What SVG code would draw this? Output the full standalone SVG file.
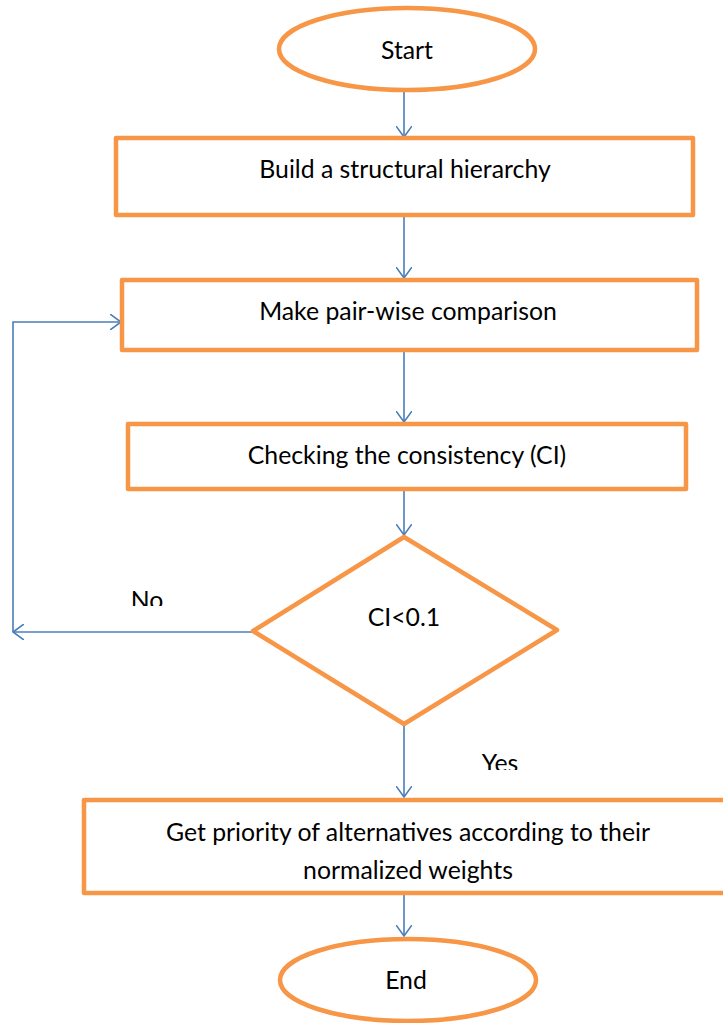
<svg xmlns="http://www.w3.org/2000/svg" width="723" height="1023" viewBox="0 0 723 1023">
<defs>
<style>
.shape{fill:#fff;stroke:#f79646;stroke-width:4.5;stroke-linejoin:round}
.con{fill:none;stroke:#4a7ebb;stroke-width:1.6}
.t{font-family:Lato,"Open Sans",sans-serif;font-size:24.8px;fill:#000;text-anchor:middle}
</style>
<marker id="ah" viewBox="0 0 12 16" refX="11" refY="8" markerWidth="12" markerHeight="16" markerUnits="userSpaceOnUse" orient="auto">
<path d="M0,0 L11,8 L0,16" fill="none" stroke="#4a7ebb" stroke-width="1.6"/>
</marker>
<clipPath id="cNo"><rect x="100" y="570" width="100" height="36"/></clipPath>
<clipPath id="cYes"><rect x="440" y="740" width="120" height="30"/></clipPath>
</defs>
<g id="connectors">
<line class="con" x1="404" y1="90" x2="404" y2="137" marker-end="url(#ah)"/>
<line class="con" x1="404" y1="216" x2="404" y2="278" marker-end="url(#ah)"/>
<line class="con" x1="404" y1="351" x2="404" y2="422" marker-end="url(#ah)"/>
<line class="con" x1="404" y1="490" x2="404" y2="535" marker-end="url(#ah)"/>
<polyline class="con" points="253,632 13,632" marker-end="url(#ah)"/>
<polyline class="con" points="13,632 13,322 121,322" marker-end="url(#ah)"/>
<line class="con" x1="404" y1="724" x2="404" y2="797" marker-end="url(#ah)"/>
<line class="con" x1="404" y1="894" x2="404" y2="936" marker-end="url(#ah)"/>
</g>
<g id="start"><ellipse class="shape" cx="407" cy="49" rx="128" ry="41"/><text class="t" x="407" y="59">Start</text></g>
<g id="build"><rect class="shape" x="116" y="138" width="577" height="77"/><text class="t" x="405" y="178">Build a structural hierarchy</text></g>
<g id="pairwise"><rect class="shape" x="122" y="280" width="575" height="70"/><text class="t" x="408" y="320">Make pair-wise comparison</text></g>
<g id="consistency"><rect class="shape" x="128" y="424" width="558" height="65"/><text class="t" x="407" y="464">Checking the consistency (CI)</text></g>
<g id="decision"><polygon class="shape" points="404,537 557,630 404,724 253,631"/><text class="t" x="404" y="626">CI&lt;0.1</text></g>
<g id="labels">
<text class="t" x="147" y="609" clip-path="url(#cNo)">No</text>
<text class="t" x="500" y="772" clip-path="url(#cYes)">Yes</text>
</g>
<g id="priority"><rect class="shape" x="84" y="800" width="645" height="93"/><text class="t" x="408" y="841">Get priority of alternatives according to their</text><text class="t" x="408" y="879">normalized weights</text></g>
<g id="end"><ellipse class="shape" cx="408" cy="980" rx="128" ry="41"/><text class="t" x="406" y="989">End</text></g>
</svg>
